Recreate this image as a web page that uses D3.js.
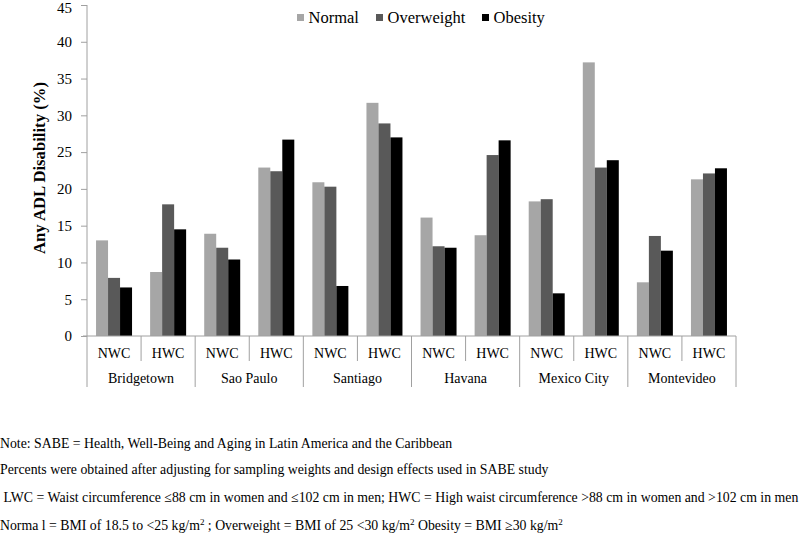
<!DOCTYPE html>
<html><head><meta charset="utf-8">
<script src="https://cdn.jsdelivr.net/npm/d3@7"></script>
<style>body{margin:0;background:#fff}svg{display:block}text{font-family:"Liberation Serif","Times New Roman",serif;fill:#000}</style>
</head><body><svg id="c" width="800" height="545"></svg>
<script>
const cities = ["Bridgetown","Sao Paulo","Santiago","Havana","Mexico City","Montevideo"];
const waist = ["NWC","HWC"];
const seriesNames = ["Normal","Overweight","Obesity"];
const seriesColors = ["#a6a6a6","#595959","#000000"];
// values per city × waist (NWC, HWC), in order of cities
const normal     = [13.0, 8.7, 13.9, 22.9, 20.9, 31.7, 16.1, 13.7, 18.3, 37.2, 7.3, 21.3];
const overweight = [7.9, 17.9, 12.0, 22.4, 20.3, 28.9, 12.2, 24.6, 18.6, 22.9, 13.6, 22.1];
const obesity    = [6.6, 14.5, 10.4, 26.7, 6.8, 27.0, 12.0, 26.6, 5.8, 23.9, 11.6, 22.8];
const yTicks = [0,5,10,15,20,25,30,35,40,45];
const notes = [
  "Note: SABE = Health, Well-Being and Aging in Latin America and the Caribbean",
  "Percents were obtained after adjusting for sampling weights and design effects used in SABE study",
  " LWC = Waist circumference \u226488 cm in women and \u2264102 cm in men; HWC = High waist circumference >88 cm in women and >102 cm in men"
];

(function(){
const svg = d3.select("#c");
const mLeft = 87, mRight = 736, mTop = 5, mBottom = 336;
const cats = [];
cities.forEach(c => waist.forEach(w => cats.push(c + "|" + w)));
const x = d3.scaleBand().domain(cats).range([mLeft, mRight]);
const y = d3.scaleLinear().domain([0,45]).range([mBottom, mTop]);
const xs = d3.scaleBand().domain(seriesNames).range([0, 36]);
const groupW = 36;
const axisCol = "#a0a0a0";

// y axis
const ya = svg.append("g").attr("transform", `translate(${mLeft},0)`)
  .call(d3.axisLeft(y).tickValues(yTicks).tickSize(6).tickPadding(9).tickFormat(d3.format("d")));
ya.selectAll("path,line").attr("stroke", axisCol);
ya.selectAll("text").attr("font-size", 15).attr("font-family", '"Liberation Serif",serif').attr("fill","#000");
ya.selectAll(".tick text").filter(d => d === 45).attr("dy", "0.5em");
ya.select(".domain").attr("d", `M0,${mTop}V${mBottom}`);

// bars
const allSeries = [normal, overweight, obesity];
allSeries.forEach((vals, si) => {
  svg.append("g").selectAll("rect").data(cats).join("rect")
    .attr("x", (d) => x(d) + (x.bandwidth() - groupW) / 2 + xs(seriesNames[si]))
    .attr("width", xs.bandwidth())
    .attr("y", (d, i) => y(vals[i]))
    .attr("height", (d, i) => mBottom - y(vals[i]))
    .attr("fill", seriesColors[si]);
});

// x axis line
svg.append("line").attr("x1", mLeft - 4).attr("x2", mRight).attr("y1", mBottom).attr("y2", mBottom)
  .attr("stroke", axisCol);
// sub separators
cats.forEach((d, i) => {
  const xx = x(d) + x.bandwidth();
  if (i % 2 === 0) {
    svg.append("line").attr("x1", xx).attr("x2", xx).attr("y1", mBottom).attr("y2", 361).attr("stroke", axisCol);
  }
});
// group separators
const groupEdges = [mLeft].concat(cities.map((c, i) => x(cats[i*2+1]) + x.bandwidth()));
groupEdges.forEach(xx => {
  svg.append("line").attr("x1", xx).attr("x2", xx).attr("y1", mBottom).attr("y2", 387).attr("stroke", axisCol);
});
// sub labels
svg.append("g").selectAll("text").data(cats).join("text")
  .attr("x", d => x(d) + x.bandwidth()/2).attr("y", 358)
  .attr("text-anchor", "middle").attr("font-size", 14)
  .text(d => d.split("|")[1]);
// city labels
svg.append("g").selectAll("text").data(cities).join("text")
  .attr("x", (c, i) => x(cats[i*2]) + x.bandwidth()).attr("y", 383)
  .attr("text-anchor", "middle").attr("font-size", 14)
  .text(c => c);

// y title
svg.append("text").attr("transform", `translate(45,168) rotate(-90)`)
  .attr("text-anchor", "middle").attr("font-size", 16.7).attr("font-weight", "bold")
  .text("Any ADL Disability (%)");

// legend
const legX = [297, 376, 482];
seriesNames.forEach((s, i) => {
  svg.append("rect").attr("x", legX[i]).attr("y", 14).attr("width", 7).attr("height", 7).attr("fill", seriesColors[i]);
  svg.append("text").attr("x", legX[i] + 11.5).attr("y", 23).attr("font-size", 16.5).text(s);
});

// notes
const noteY = [448, 474, 502];
notes.forEach((t, i) => {
  svg.append("text").attr("x", 0).attr("y", noteY[i]).attr("font-size", 13.8)
    .style("white-space","pre").text(t);
});
const last = svg.append("text").attr("x", 0).attr("y", 530).attr("font-size", 13.8);
const parts = [["Norma l = BMI of 18.5 to <25 kg/m",0],["2",1],[" ; Overweight = BMI of 25 <30 kg/m",0],["2",1],[" Obesity = BMI \u226530 kg/m",0],["2",1]];
parts.forEach(([t, sup], i) => {
  const ts = last.append("tspan").style("white-space","pre").text(t);
  if (sup) ts.attr("font-size", 9).attr("dy", -5);
  else ts.attr("dy", i > 0 ? 5 : 0);
});
})();
</script></body></html>
